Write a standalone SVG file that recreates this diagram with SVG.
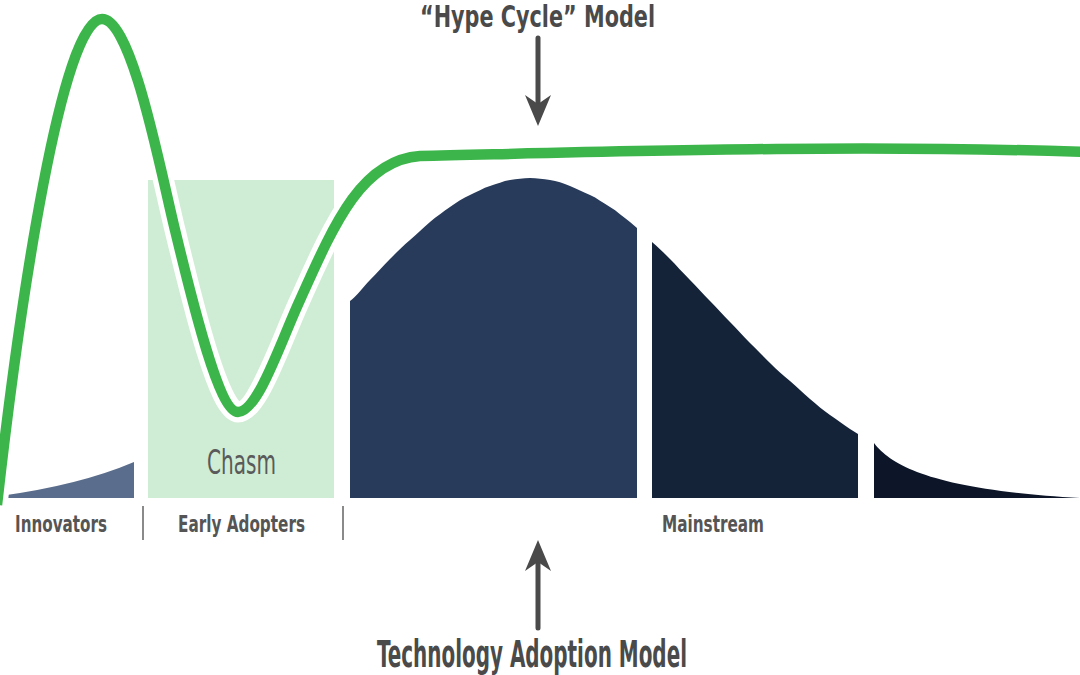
<svg xmlns="http://www.w3.org/2000/svg" width="1080" height="675" viewBox="0 0 1080 675">
  <style>
    .lbl { font-family: "Liberation Sans Narrow", "DejaVu Sans Condensed", "DejaVu Sans", sans-serif; font-weight: bold; fill: #555555; }
    .title { font-family: "Liberation Sans Narrow", "DejaVu Sans Condensed", "DejaVu Sans", sans-serif; font-weight: bold; fill: #4a4a4a; }
    .chasm-t { font-family: "Liberation Sans Narrow", "DejaVu Sans Condensed", "DejaVu Sans", sans-serif; font-weight: normal; fill: #5a5a5a; }
    .sep { stroke: #8a8a8a; stroke-width: 2; }
    .arrow { stroke: #4a4a4a; stroke-width: 5; stroke-linecap: round; fill: none; }
    .halo { fill: none; stroke: #ffffff; stroke-width: 21; stroke-linejoin: round; }
    .hype { fill: none; stroke: #3cb64a; stroke-width: 10.5; stroke-linejoin: round; }
  </style>
  <defs>
    <marker id="head" markerUnits="userSpaceOnUse" markerWidth="34" markerHeight="28" viewBox="0 0 34 28" refX="23" refY="13" orient="auto">
      <path d="M0,0 L31,13 L0,26 L9,13 Z" fill="#4a4a4a"/>
    </marker>
    <path id="hypePath" d="M-3,505 C20,300 62,19 102,19 C132,19 160.3,170 175,230 C189.7,290 218,412 238,412 C258,412 281.4,340 300,300 C335,222 362,160 420,156 C600,152 850,144 1085,152"/>
  </defs>
  <rect width="1080" height="675" fill="#ffffff"/>

  <g id="innovators">
    <path d="M0,498 L0,496 Q80,485 134,462 L134,498 Z" fill="#5a6d8c"/>
  </g>

  <g id="chasm">
    <rect x="148" y="180" width="186" height="318" fill="#cfecd4"/>
    <text class="chasm-t" x="207" y="474" font-size="34" textLength="69" lengthAdjust="spacingAndGlyphs">Chasm</text>
  </g>

  <g id="early-majority">
    <path d="M350,498 L350,301 C356,297 363,287 370,280 S383,266 390,259 S403,246 410,240 S423,228 430,222 S443,212 450,207 S463,198 470,195 S483,188 490,186 S503,181 510,180 S523,178 530,178 S543,179 550,180 S563,183 570,186 S583,192 590,195 S603,203 610,207 S623,217 630,222 L637,228 L637,498 Z" fill="#283b5a"/>
  </g>

  <g id="late-majority">
    <path d="M652,498 L652,242 C658,247 664,253 670,259 S683,273 690,280 S703,294 710,301 S723,315 730,322 S743,336 750,343 S763,356 770,363 S783,375 790,381 S803,393 810,399 S823,410 830,415 S843,424 850,429 L858,434 L858,498 Z" fill="#152339"/>
  </g>

  <g id="laggards">
    <path d="M874,498 L874,443 C893,468 940,490 1080,498 Z" fill="#0c1628"/>
  </g>

  <g id="hype-cycle">
    <use href="#hypePath" class="halo"/>
    <use href="#hypePath" class="hype"/>
  </g>

  <g id="labels">
    <text class="lbl" x="15" y="532" font-size="23" textLength="92" lengthAdjust="spacingAndGlyphs">Innovators</text>
    <line class="sep" x1="143" y1="506" x2="143" y2="540"/>
    <text class="lbl" x="178" y="532" font-size="23" textLength="127" lengthAdjust="spacingAndGlyphs">Early Adopters</text>
    <line class="sep" x1="343" y1="506" x2="343" y2="540"/>
    <text class="lbl" x="662" y="532" font-size="23" textLength="102" lengthAdjust="spacingAndGlyphs">Mainstream</text>
  </g>

  <g id="titles">
    <text class="title" x="420" y="27" font-size="30" textLength="235" lengthAdjust="spacingAndGlyphs">“Hype Cycle” Model</text>
    <text class="title" x="377" y="667" font-size="37" textLength="310" lengthAdjust="spacingAndGlyphs">Technology Adoption Model</text>
  </g>

  <g id="connectors">
    <line class="arrow" x1="538" y1="38" x2="538" y2="118" marker-end="url(#head)"/>
    <line class="arrow" x1="538" y1="628" x2="538" y2="548" marker-end="url(#head)"/>
  </g>
</svg>
